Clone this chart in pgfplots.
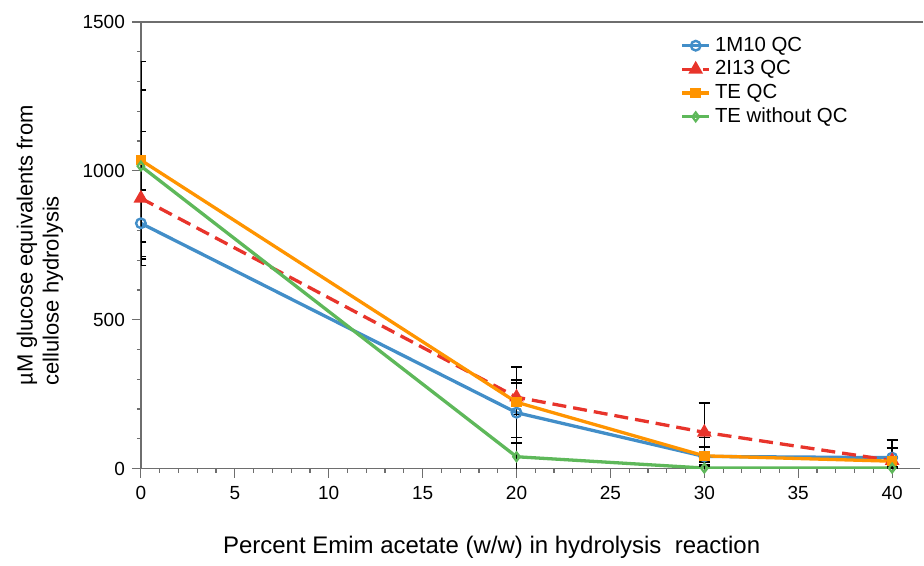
\documentclass[border=0pt]{standalone}
\usepackage{fontspec}
\setmainfont{Liberation Sans}
\usepackage{pgfplots}
\usepackage{pgfplotstable}
\pgfplotsset{compat=1.18}

\definecolor{cblue}{RGB}{66,142,200}
\definecolor{cred}{RGB}{232,52,43}
\definecolor{corange}{RGB}{255,148,0}
\definecolor{cgreen}{RGB}{94,184,90}
\definecolor{axgray}{RGB}{110,110,110}

\pgfplotstableread{
x   blue eblue red ered orange eorange green egreen
0   824  111   908 225  1036   332     1016  255
20  188  100   240 58   223    118     40    45
30  41   64    122 99   43     30      2     5
40  37   60    27  12   25     45      2     3
}\datatable

\begin{document}
\begin{tikzpicture}
\begin{axis}[
  scale only axis,
  width=390pt, height=223.5pt,
  xmin=0, xmax=41.5,
  ymin=0, ymax=1500,
  xtick={0,5,...,40},
  ytick={0,500,1000,1500},
  minor x tick num=4,
  minor y tick num=4,
  tick align=outside,
  major tick length=4.5pt,
  minor tick length=2pt,
  every tick/.style={axgray, line width=0.6pt},
  axis x line*=bottom,
  axis y line*=left,
  axis line style={axgray, line width=0.7pt, -},
  tick label style={font=\fontsize{9.5pt}{11pt}\selectfont, black},
  /pgf/number format/assume math mode=true,
  /pgf/number format/1000 sep={},
  xticklabel style={yshift=-1pt},
  xlabel={Percent Emim acetate (w/w) in hydrolysis\ \ reaction},
  xlabel style={font=\fontsize{12pt}{14pt}\selectfont, at={(axis description cs:0.45,0)}, anchor=center, yshift=-39.5pt},
  ylabel={µM glucose equivalents from\\cellulose hydrolysis},
  ylabel style={font=\fontsize{11pt}{13pt}\selectfont, align=left, at={(axis description cs:-0.1295,0.5)}, anchor=center},
  legend style={at={(axis description cs:0.684,0.985)}, anchor=north west, draw=none, fill=none,
    font=\fontsize{10.2pt}{12pt}\selectfont, row sep=-0.8pt},
  legend cell align=left,
  legend image code/.code={\draw[mark repeat=2,mark phase=2] plot coordinates {(0cm,0cm)(0.24cm,0cm)(0.48cm,0cm)};},
  every axis plot/.append style={line width=1.65pt},
  error bars/error bar style={black, line width=0.75pt, solid},
  error bars/error mark options={rotate=90, mark size=2.8pt, black, line width=0.75pt, solid},
]
\addplot[cblue, mark=o, mark size=2.4pt, mark options={solid, fill=white, line width=1.2pt},
  error bars/.cd, y dir=both, y explicit]
  table[x=x, y=blue, y error=eblue] {\datatable};
\addlegendentry{1M10 QC}
\addplot[cred, dash pattern=on 7pt off 3.5pt, mark=triangle*, mark size=2.6pt, mark options={solid},
  error bars/.cd, y dir=both, y explicit]
  table[x=x, y=red, y error=ered] {\datatable};
\addlegendentry{2I13 QC}
\addplot[corange, mark=square*, mark size=1.8pt, mark options={solid},
  error bars/.cd, y dir=both, y explicit]
  table[x=x, y=orange, y error=eorange] {\datatable};
\addlegendentry{TE QC}
\addplot[cgreen, mark=diamond, mark size=2.2pt, mark options={solid, fill=white, line width=1.1pt},
  error bars/.cd, y dir=both, y explicit]
  table[x=x, y=green, y error=egreen] {\datatable};
\addlegendentry{TE without QC}
\end{axis}
\draw[axgray, line width=0.7pt] (current axis.north west) -- ([xshift=1.5pt]current axis.north east);
\path ([shift={(-70.5pt,-47pt)}]current axis.south west);
\path ([shift={(1.5pt,11pt)}]current axis.north east);
\end{tikzpicture}
\end{document}
